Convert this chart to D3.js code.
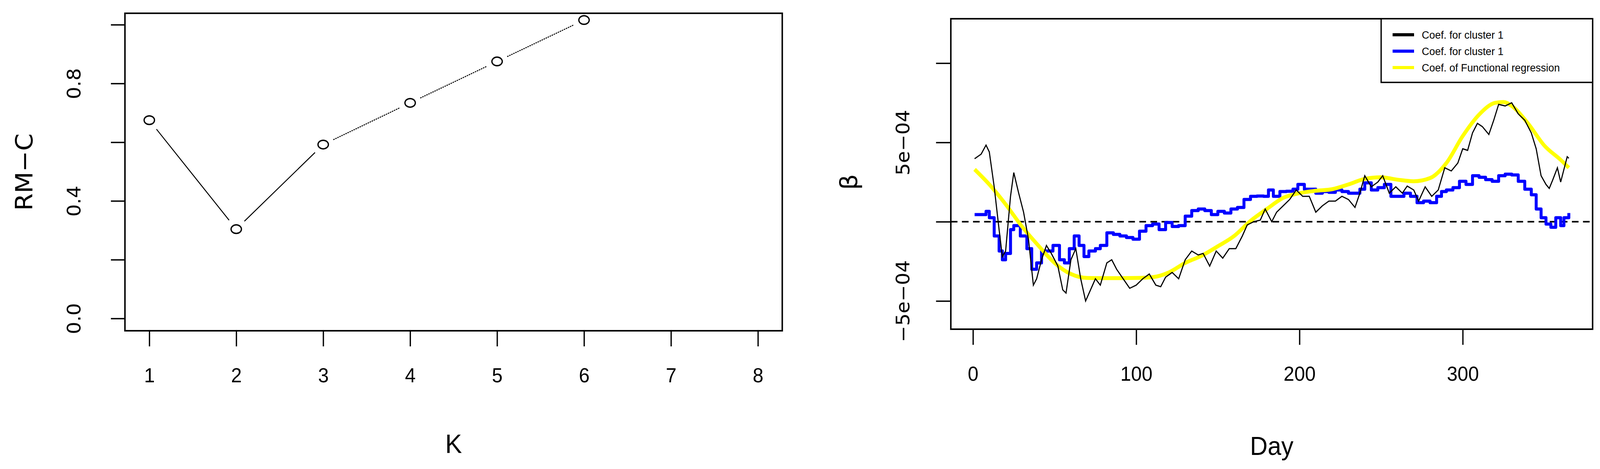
<!DOCTYPE html>
<html>
<head>
<meta charset="utf-8">
<script src="https://cdn.jsdelivr.net/npm/d3@7"></script>
<style>
  html, body { margin: 0; padding: 0; width: 100%; height: 100%; overflow: hidden; background: #fff; }
  svg { display: block; }
  text { fill: #000; }
</style>
</head>
<body>
<svg id="chart" width="100%" height="100%" viewBox="0 0 4328 1201" preserveAspectRatio="none"></svg>
<script>
// left panel: RM-C by K
const kValues = [1, 2, 3, 4, 5, 6];
const rmcValues = [0.675, 0.304, 0.592, 0.734, 0.875, 1.016];
const kTicks = [1, 2, 3, 4, 5, 6, 7, 8];
const rmcTicks = [0, 0.2, 0.4, 0.6, 0.8, 1.0];
const rmcLabels = ["0.0", "", "0.4", "", "0.8", ""];

// right panel: coefficients by day (values in units of 1e-4)
const blackDays = [1,5,8,10,13,16,18,20,23,25,28,31,34,37,39,42,45,48,52,55,57,60,63,66,69,72,75,78,82,85,88,92,96,100,104,108,112,115,118,122,126,130,134,138,141,145,149,153,157,161,165,168,172,176,179,183,186,190,194,198,202,206,210,214,218,222,226,230,234,237,240,244,248,251,255,259,263,266,270,273,277,281,285,289,293,297,300,303,306,309,312,316,319,322,326,330,334,338,342,345,348,351,353,355,358,360,362,364,365];
const blackVals = [3.97,4.26,4.83,4.4,2.2,-0.5,-2.2,-1.85,1.6,3.1,1.8,0.6,-1.1,-4.0,-3.6,-2.4,-1.5,-2.0,-2.8,-4.3,-4.5,-2.4,-1.7,-3.6,-5.0,-4.3,-3.6,-4.0,-2.6,-2.4,-3.0,-3.6,-4.2,-4.0,-3.6,-3.3,-4.0,-4.1,-3.5,-3.2,-3.6,-2.4,-1.85,-2.1,-2.0,-2.8,-1.85,-2.3,-1.7,-1.7,-0.9,-0.2,0,0.1,0.8,0,0.6,1.0,1.4,2.0,1.6,1.6,0.6,1.0,1.3,1.3,1.6,1.4,0.9,1.8,2.9,2.2,2.5,2.9,1.8,2.2,1.8,2.25,2.0,1.3,2.2,1.6,2.0,3.4,3.2,3.7,4.6,4.5,5.6,6.2,6.0,5.5,6.4,7.4,7.3,7.5,6.8,6.4,5.6,4.6,2.9,2.35,2.1,2.6,3.4,2.5,3.3,4.1,4.0];
const blueDays = [1,5,8,10,13,16,18,20,23,25,29,33,36,39,42,46,49,53,56,59,62,65,68,71,75,78,82,86,90,94,98,102,106,110,114,118,122,126,130,134,138,142,146,150,154,158,162,166,170,174,178,181,184,188,192,196,199,203,207,210,214,218,222,226,230,234,237,240,244,248,252,256,260,264,268,272,276,280,284,287,290,294,298,302,306,310,314,318,322,326,330,334,338,342,345,348,351,354,357,360,362,365];
const blueVals = [0.45,0.45,0.65,0.25,-0.9,-1.85,-2.4,-2.0,-0.5,-0.25,-0.9,-1.7,-3.0,-2.6,-1.85,-1.85,-1.5,-2.4,-2.6,-1.7,-0.9,-1.5,-2.2,-1.85,-1.7,-1.5,-0.7,-0.8,-0.9,-1.0,-1.1,-0.6,-0.25,-0.15,-0.5,-0.05,-0.3,-0.25,0.35,0.7,0.8,0.7,0.45,0.65,0.55,0.8,0.9,1.4,1.6,1.62,1.6,2.0,1.6,1.9,1.92,2.05,2.35,2.05,2.05,1.8,1.9,1.85,2.0,1.9,1.8,1.8,2.05,2.45,2.0,2.15,2.35,1.6,1.6,1.8,1.6,1.2,1.3,1.2,1.6,1.9,2.0,2.15,2.55,2.35,2.9,2.8,2.65,2.55,2.9,3.0,2.95,2.55,2.05,1.7,0.8,0.25,-0.15,-0.35,0.25,-0.25,0.25,0.55];
const yellowDays = [1,10,20,30,40,50,60,70,80,90,100,110,120,130,140,150,160,170,180,190,200,210,220,230,240,250,260,270,280,290,300,310,320,325,330,340,350,360,365];
const yellowVals = [3.3,2.35,1.1,-0.3,-1.5,-2.6,-3.3,-3.55,-3.56,-3.56,-3.55,-3.5,-3.2,-2.6,-2.15,-1.55,-0.9,0.05,0.8,1.5,1.8,1.95,2.05,2.35,2.7,2.8,2.65,2.55,2.75,3.7,5.4,6.75,7.5,7.55,7.3,6.2,4.8,3.9,3.4];
const betaTicks = [-5, 0, 5, 10];
const betaLabels = ["\u22125e\u221204", "", "5e\u221204", ""];
const dayTicks = [0, 100, 200, 300];
const legendLabels = ["Coef. for cluster 1", "Coef. for cluster 1", "Coef. of Functional regression"];
const legendColors = ["#000000", "#0000ff", "#ffff00"];

const svg = d3.select("#chart");
const tickFont = "'DejaVu Sans', sans-serif";
const xFont = "'Liberation Sans', Arial, sans-serif";

// ---------- left panel ----------
const L = { left: 338, right: 2116, top: 34, bottom: 847 };
const xK = d3.scaleLinear().domain([0.72, 8.28]).range([L.left, L.right]);
const yR = d3.scaleLinear().domain([-0.042, 1.039]).range([L.bottom, L.top]);

const left = svg.append("g");
left.append("rect")
  .attr("x", L.left).attr("y", L.top)
  .attr("width", L.right - L.left).attr("height", L.bottom - L.top)
  .attr("fill", "none").attr("stroke", "#000").attr("stroke-width", 4);

left.append("g")
  .attr("transform", `translate(0,${L.bottom})`)
  .call(d3.axisBottom(xK).tickValues(kTicks).tickSize(40).tickPadding(55).tickFormat(d3.format("d")))
  .call(g => g.select(".domain").remove())
  .call(g => g.selectAll("line").attr("stroke-width", 3.5))
  .call(g => g.selectAll("text").attr("font-family", xFont).attr("font-size", 52));

left.append("g")
  .attr("transform", `translate(${L.left},0)`)
  .call(d3.axisLeft(yR).tickValues(rmcTicks).tickSize(38).tickFormat((d, i) => rmcLabels[i]))
  .call(g => g.select(".domain").remove())
  .call(g => g.selectAll("line").attr("stroke-width", 3.5))
  .call(g => g.selectAll("text")
    .attr("font-family", tickFont).attr("font-size", 50)
    .attr("text-anchor", "middle").attr("x", 0).attr("dy", 0)
    .attr("transform", "translate(-120,0) rotate(-90)"));

// segments with gaps around the points (type = "b")
const gap = 30;
for (let i = 0; i < kValues.length - 1; i++) {
  const x1 = xK(kValues[i]), y1 = yR(rmcValues[i]);
  const x2 = xK(kValues[i + 1]), y2 = yR(rmcValues[i + 1]);
  const len = Math.hypot(x2 - x1, y2 - y1);
  const ux = (x2 - x1) / len, uy = (y2 - y1) / len;
  left.append("line")
    .attr("x1", x1 + ux * gap).attr("y1", y1 + uy * gap)
    .attr("x2", x2 - ux * gap).attr("y2", y2 - uy * gap)
    .attr("stroke", "#000").attr("stroke-width", 2.5)
    .attr("stroke-dasharray", i >= 2 ? "4,2" : null);
}
left.selectAll("ellipse.pt")
  .data(kValues)
  .enter()
  .append("ellipse")
  .attr("class", "pt")
  .attr("cx", d => xK(d))
  .attr("cy", (d, i) => yR(rmcValues[i]))
  .attr("rx", 14).attr("ry", 11)
  .attr("fill", "none").attr("stroke", "#000").attr("stroke-width", 3.5);

left.append("text")
  .attr("x", xK(4.5)).attr("y", 1160)
  .attr("text-anchor", "middle")
  .attr("font-family", xFont).attr("font-size", 68)
  .text("K");
left.append("text")
  .attr("transform", `translate(88,${(L.top + L.bottom) / 2}) rotate(-90)`)
  .attr("text-anchor", "middle")
  .attr("font-family", tickFont).attr("font-size", 64)
  .text("RM\u2212C");

// ---------- right panel ----------
const R = { left: 2572, right: 4308, top: 48, bottom: 843 };
const xD = d3.scaleLinear().domain([1 - 14.56, 365 + 14.56]).range([R.left, R.right]);
const yB = d3.scaleLinear().domain([-6.78, 12.8]).range([R.bottom, R.top]);

const right = svg.append("g");

right.append("g")
  .attr("transform", `translate(0,${R.bottom})`)
  .call(d3.axisBottom(xD).tickValues(dayTicks).tickSize(40).tickPadding(55).tickFormat(d3.format("d")))
  .call(g => g.select(".domain").remove())
  .call(g => g.selectAll("line").attr("stroke-width", 3.5))
  .call(g => g.selectAll("text").attr("font-family", xFont).attr("font-size", 52));

right.append("g")
  .attr("transform", `translate(${R.left},0)`)
  .call(d3.axisLeft(yB).tickValues(betaTicks).tickSize(40).tickFormat((d, i) => betaLabels[i]))
  .call(g => g.select(".domain").remove())
  .call(g => g.selectAll("line").attr("stroke-width", 3.5))
  .call(g => g.selectAll("text")
    .attr("font-family", tickFont).attr("font-size", 50)
    .attr("text-anchor", "middle").attr("x", 0).attr("dy", 0)
    .attr("transform", "translate(-112,0) rotate(-90)"));

right.append("line")
  .attr("x1", R.left).attr("x2", R.right)
  .attr("y1", yB(0)).attr("y2", yB(0))
  .attr("stroke", "#000").attr("stroke-width", 4)
  .attr("stroke-dasharray", "18,12");

const line = d3.line().x(d => xD(d[0])).y(d => yB(d[1]));
right.append("path")
  .datum(d3.zip(blueDays, blueVals))
  .attr("d", line.curve(d3.curveStepAfter))
  .attr("fill", "none").attr("stroke", "#0000ff").attr("stroke-width", 8).attr("stroke-linejoin", "round");
right.append("path")
  .datum(d3.zip(yellowDays, yellowVals))
  .attr("d", line.curve(d3.curveMonotoneX))
  .attr("fill", "none").attr("stroke", "#ffff00").attr("stroke-width", 10);
right.append("path")
  .datum(d3.zip(blackDays, blackVals))
  .attr("d", line.curve(d3.curveLinear))
  .attr("fill", "none").attr("stroke", "#000").attr("stroke-width", 3);

right.append("rect")
  .attr("x", R.left).attr("y", R.top)
  .attr("width", R.right - R.left).attr("height", R.bottom - R.top)
  .attr("fill", "none").attr("stroke", "#000").attr("stroke-width", 4);

// legend
const lg = right.append("g");
lg.append("rect")
  .attr("x", 3736).attr("y", R.top)
  .attr("width", R.right - 3736).attr("height", 163)
  .attr("fill", "#fff").attr("stroke", "#000").attr("stroke-width", 3.5);
legendLabels.forEach((lab, i) => {
  const y = 89 + i * 42;
  lg.append("line")
    .attr("x1", 3767).attr("x2", 3825).attr("y1", y).attr("y2", y)
    .attr("stroke", legendColors[i]).attr("stroke-width", 8);
  lg.append("text")
    .attr("x", 3846).attr("y", y).attr("dy", "0.35em")
    .attr("font-family", xFont).attr("font-size", 28)
    .text(lab);
});

right.append("text")
  .attr("x", (R.left + R.right) / 2).attr("y", 1165)
  .attr("text-anchor", "middle")
  .attr("font-family", xFont).attr("font-size", 66)
  .text("Day");
right.append("text")
  .attr("transform", `translate(2318,${yB(2.5)}) rotate(-90)`)
  .attr("text-anchor", "middle")
  .attr("font-family", tickFont).attr("font-size", 64)
  .text("\u03b2");
</script>
</body>
</html>
